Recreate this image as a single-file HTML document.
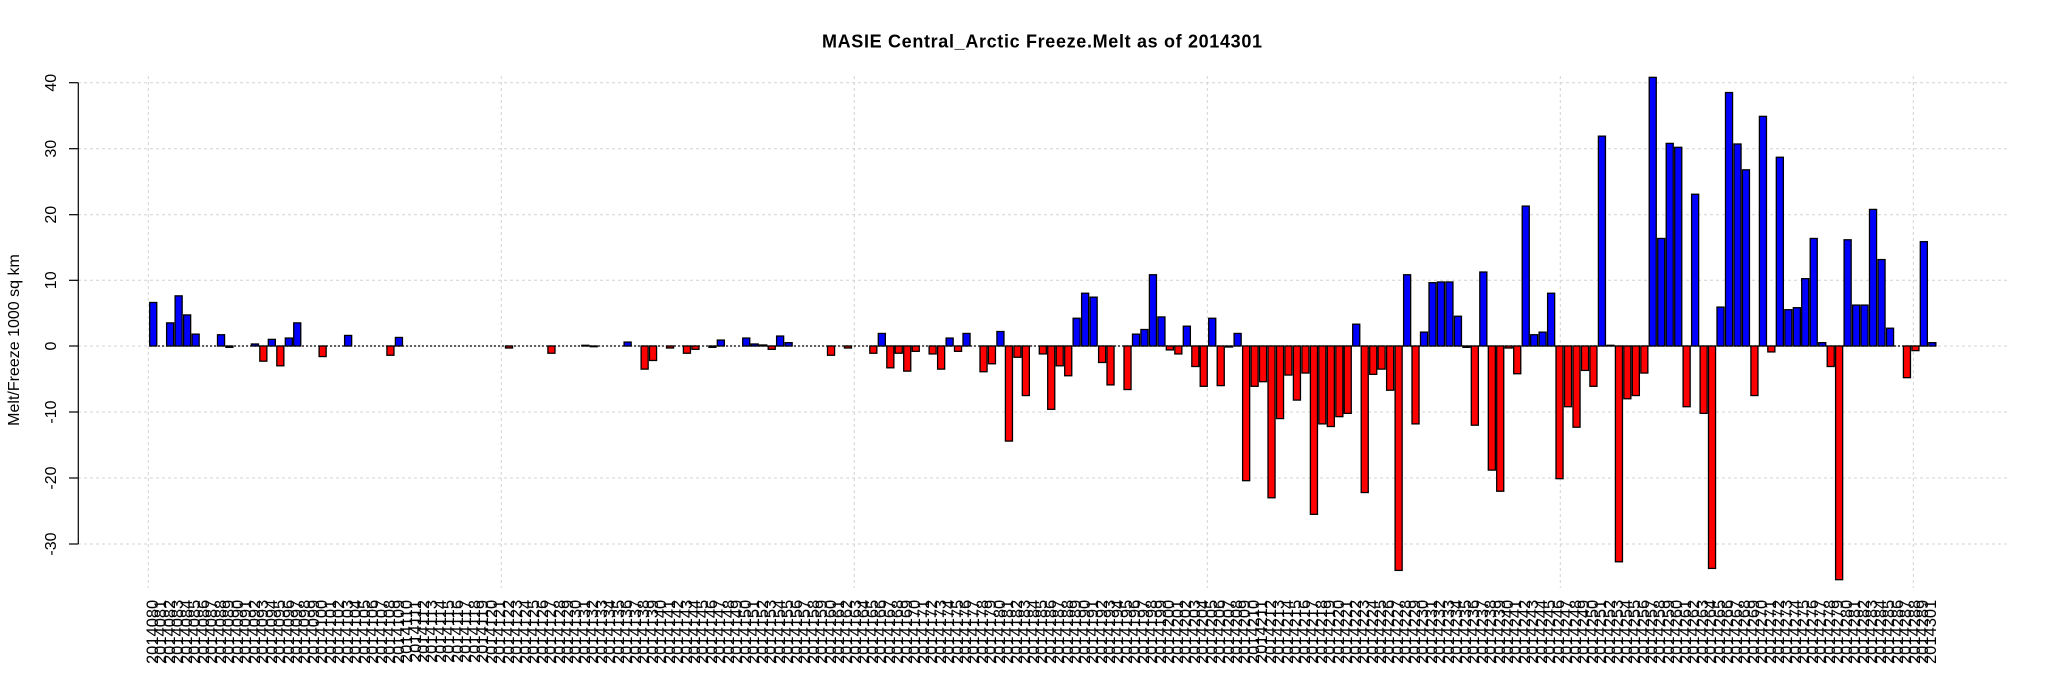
<!DOCTYPE html>
<html><head><meta charset="utf-8"><style>
html,body{margin:0;padding:0;background:#fff;}
body{width:2047px;height:681px;position:relative;overflow:hidden;font-family:"Liberation Sans",Arial,sans-serif;}
svg{position:absolute;left:0;top:0;}
#xl{position:absolute;left:149px;top:600px;display:flex;}
#xl i{font-style:normal;display:block;flex:none;width:8.472px;height:64px;writing-mode:vertical-rl;transform:rotate(180deg);text-align:end;line-height:8.472px;font-size:16.5px;white-space:nowrap;color:#000;}
</style></head><body>
<svg width="2047" height="681" viewBox="0 0 2047 681" xmlns="http://www.w3.org/2000/svg" font-family="Liberation Sans, Arial, sans-serif">
<text x="1042" y="47.5" font-size="18" font-weight="bold" text-anchor="middle" textLength="440">MASIE Central_Arctic Freeze.Melt as of 2014301</text>
<g stroke="#d3d3d3" stroke-width="1" stroke-dasharray="3,3">
<line x1="78" y1="82.7" x2="2008" y2="82.7"/>
<line x1="78" y1="148.7" x2="2008" y2="148.7"/>
<line x1="78" y1="214.7" x2="2008" y2="214.7"/>
<line x1="78" y1="280.3" x2="2008" y2="280.3"/>
<line x1="78" y1="346" x2="2008" y2="346"/>
<line x1="78" y1="412" x2="2008" y2="412"/>
<line x1="78" y1="478" x2="2008" y2="478"/>
<line x1="78" y1="544" x2="2008" y2="544"/>
<line x1="148.3" y1="76" x2="148.3" y2="588"/>
<line x1="501.3" y1="76" x2="501.3" y2="588"/>
<line x1="854.3" y1="76" x2="854.3" y2="588"/>
<line x1="1207.3" y1="76" x2="1207.3" y2="588"/>
<line x1="1560.3" y1="76" x2="1560.3" y2="588"/>
<line x1="1913.3" y1="76" x2="1913.3" y2="588"/>
</g>
<g stroke="#000" stroke-width="1.2">
<line x1="78.3" y1="82.7" x2="78.3" y2="544"/>
<line x1="69" y1="82.7" x2="78.3" y2="82.7"/>
<line x1="69" y1="148.7" x2="78.3" y2="148.7"/>
<line x1="69" y1="214.7" x2="78.3" y2="214.7"/>
<line x1="69" y1="280.3" x2="78.3" y2="280.3"/>
<line x1="69" y1="346" x2="78.3" y2="346"/>
<line x1="69" y1="412" x2="78.3" y2="412"/>
<line x1="69" y1="478" x2="78.3" y2="478"/>
<line x1="69" y1="544" x2="78.3" y2="544"/>
</g>
<g font-size="16" text-anchor="middle">
<text transform="translate(56,82.7) rotate(-90)">40</text>
<text transform="translate(56,148.7) rotate(-90)">30</text>
<text transform="translate(56,214.7) rotate(-90)">20</text>
<text transform="translate(56,280.3) rotate(-90)">10</text>
<text transform="translate(56,346) rotate(-90)">0</text>
<text transform="translate(56,412) rotate(-90)">-10</text>
<text transform="translate(56,478) rotate(-90)">-20</text>
<text transform="translate(56,544) rotate(-90)">-30</text>
<text transform="translate(19,340) rotate(-90)">Melt/Freeze 1000 sq km</text>
</g>
<line x1="150" y1="346" x2="1936" y2="346" stroke="#000" stroke-width="1.3" stroke-dasharray="2,2"/>
<g transform="translate(0,346) scale(1,1.005) translate(0,-344.3)" stroke="#000" stroke-width="1.3">
<g fill="#0000ff">
<rect x="149.7" y="301.0" width="7.06" height="43.3"/>
<rect x="166.6" y="321.3" width="7.06" height="23.0"/>
<rect x="175.1" y="294.4" width="7.06" height="49.9"/>
<rect x="183.6" y="313.4" width="7.06" height="30.9"/>
<rect x="192.1" y="332.5" width="7.06" height="11.8"/>
<rect x="217.5" y="333.1" width="7.06" height="11.2"/>
<rect x="251.4" y="342.3" width="7.06" height="2.0"/>
<rect x="268.3" y="337.7" width="7.06" height="6.6"/>
<rect x="285.3" y="336.4" width="7.06" height="7.9"/>
<rect x="293.7" y="321.3" width="7.06" height="23.0"/>
<rect x="344.6" y="333.8" width="7.06" height="10.5"/>
<rect x="395.4" y="335.8" width="7.06" height="8.5"/>
<rect x="581.8" y="343.6" width="7.06" height="0.7"/>
<rect x="624.1" y="340.4" width="7.06" height="3.9"/>
<rect x="717.3" y="338.4" width="7.06" height="5.9"/>
<rect x="742.7" y="336.4" width="7.06" height="7.9"/>
<rect x="751.2" y="342.3" width="7.06" height="2.0"/>
<rect x="759.7" y="343.3" width="7.06" height="1.0"/>
<rect x="776.6" y="334.4" width="7.06" height="9.9"/>
<rect x="785.1" y="341.0" width="7.06" height="3.3"/>
<rect x="878.3" y="331.8" width="7.06" height="12.5"/>
<rect x="946.1" y="336.4" width="7.06" height="7.9"/>
<rect x="963.0" y="331.8" width="7.06" height="12.5"/>
<rect x="996.9" y="329.9" width="7.06" height="14.4"/>
<rect x="1073.1" y="316.7" width="7.06" height="27.6"/>
<rect x="1081.6" y="291.8" width="7.06" height="52.5"/>
<rect x="1090.1" y="295.7" width="7.06" height="48.6"/>
<rect x="1132.5" y="332.5" width="7.06" height="11.8"/>
<rect x="1140.9" y="327.9" width="7.06" height="16.4"/>
<rect x="1149.4" y="273.4" width="7.06" height="70.9"/>
<rect x="1157.9" y="315.4" width="7.06" height="28.9"/>
<rect x="1183.3" y="324.6" width="7.06" height="19.7"/>
<rect x="1208.7" y="316.7" width="7.06" height="27.6"/>
<rect x="1234.1" y="331.8" width="7.06" height="12.5"/>
<rect x="1352.7" y="322.6" width="7.06" height="21.7"/>
<rect x="1403.6" y="273.4" width="7.06" height="70.9"/>
<rect x="1420.5" y="330.5" width="7.06" height="13.8"/>
<rect x="1429.0" y="281.3" width="7.06" height="63.0"/>
<rect x="1437.4" y="280.6" width="7.06" height="63.7"/>
<rect x="1445.9" y="280.6" width="7.06" height="63.7"/>
<rect x="1454.4" y="314.7" width="7.06" height="29.6"/>
<rect x="1479.8" y="270.7" width="7.06" height="73.6"/>
<rect x="1522.2" y="205.1" width="7.06" height="139.2"/>
<rect x="1530.6" y="333.1" width="7.06" height="11.2"/>
<rect x="1539.1" y="330.5" width="7.06" height="13.8"/>
<rect x="1547.6" y="291.8" width="7.06" height="52.5"/>
<rect x="1598.4" y="135.5" width="7.06" height="208.8"/>
<rect x="1606.9" y="343.6" width="7.06" height="0.7"/>
<rect x="1649.2" y="77.0" width="7.06" height="267.3"/>
<rect x="1657.7" y="237.3" width="7.06" height="107.0"/>
<rect x="1666.2" y="142.7" width="7.06" height="201.6"/>
<rect x="1674.7" y="146.6" width="7.06" height="197.7"/>
<rect x="1691.6" y="193.3" width="7.06" height="151.0"/>
<rect x="1717.0" y="305.6" width="7.06" height="38.7"/>
<rect x="1725.5" y="92.1" width="7.06" height="252.2"/>
<rect x="1734.0" y="143.3" width="7.06" height="201.0"/>
<rect x="1742.4" y="169.0" width="7.06" height="175.3"/>
<rect x="1759.4" y="115.8" width="7.06" height="228.5"/>
<rect x="1776.3" y="156.5" width="7.06" height="187.8"/>
<rect x="1784.8" y="308.2" width="7.06" height="36.1"/>
<rect x="1793.3" y="306.2" width="7.06" height="38.1"/>
<rect x="1801.7" y="277.3" width="7.06" height="67.0"/>
<rect x="1810.2" y="237.3" width="7.06" height="107.0"/>
<rect x="1818.7" y="341.0" width="7.06" height="3.3"/>
<rect x="1844.1" y="238.6" width="7.06" height="105.7"/>
<rect x="1852.6" y="303.6" width="7.06" height="40.7"/>
<rect x="1861.0" y="303.6" width="7.06" height="40.7"/>
<rect x="1869.5" y="208.4" width="7.06" height="135.9"/>
<rect x="1878.0" y="258.3" width="7.06" height="86.0"/>
<rect x="1886.5" y="326.6" width="7.06" height="17.7"/>
<rect x="1920.3" y="240.5" width="7.06" height="103.8"/>
<rect x="1928.8" y="341.0" width="7.06" height="3.3"/>
</g>
<g fill="#ff0000">
<rect x="225.9" y="344.3" width="7.06" height="1.3"/>
<rect x="259.8" y="344.3" width="7.06" height="15.1"/>
<rect x="276.8" y="344.3" width="7.06" height="19.7"/>
<rect x="319.1" y="344.3" width="7.06" height="10.5"/>
<rect x="386.9" y="344.3" width="7.06" height="9.2"/>
<rect x="505.5" y="344.3" width="7.06" height="2.0"/>
<rect x="547.9" y="344.3" width="7.06" height="7.2"/>
<rect x="590.2" y="344.3" width="7.06" height="0.7"/>
<rect x="641.1" y="344.3" width="7.06" height="23.0"/>
<rect x="649.5" y="344.3" width="7.06" height="14.4"/>
<rect x="666.5" y="344.3" width="7.06" height="2.0"/>
<rect x="683.4" y="344.3" width="7.06" height="7.2"/>
<rect x="691.9" y="344.3" width="7.06" height="3.3"/>
<rect x="708.9" y="344.3" width="7.06" height="1.3"/>
<rect x="768.2" y="344.3" width="7.06" height="3.3"/>
<rect x="827.5" y="344.3" width="7.06" height="9.2"/>
<rect x="844.4" y="344.3" width="7.06" height="2.0"/>
<rect x="869.8" y="344.3" width="7.06" height="7.2"/>
<rect x="886.8" y="344.3" width="7.06" height="21.7"/>
<rect x="895.2" y="344.3" width="7.06" height="7.2"/>
<rect x="903.7" y="344.3" width="7.06" height="25.0"/>
<rect x="912.2" y="344.3" width="7.06" height="5.3"/>
<rect x="929.1" y="344.3" width="7.06" height="7.9"/>
<rect x="937.6" y="344.3" width="7.06" height="23.0"/>
<rect x="954.5" y="344.3" width="7.06" height="5.3"/>
<rect x="980.0" y="344.3" width="7.06" height="25.6"/>
<rect x="988.4" y="344.3" width="7.06" height="17.7"/>
<rect x="1005.4" y="344.3" width="7.06" height="94.6"/>
<rect x="1013.9" y="344.3" width="7.06" height="11.2"/>
<rect x="1022.3" y="344.3" width="7.06" height="49.3"/>
<rect x="1039.3" y="344.3" width="7.06" height="7.9"/>
<rect x="1047.7" y="344.3" width="7.06" height="63.0"/>
<rect x="1056.2" y="344.3" width="7.06" height="19.7"/>
<rect x="1064.7" y="344.3" width="7.06" height="29.6"/>
<rect x="1098.6" y="344.3" width="7.06" height="16.4"/>
<rect x="1107.0" y="344.3" width="7.06" height="38.7"/>
<rect x="1124.0" y="344.3" width="7.06" height="43.3"/>
<rect x="1166.3" y="344.3" width="7.06" height="3.9"/>
<rect x="1174.8" y="344.3" width="7.06" height="7.9"/>
<rect x="1191.8" y="344.3" width="7.06" height="20.4"/>
<rect x="1200.2" y="344.3" width="7.06" height="40.1"/>
<rect x="1217.2" y="344.3" width="7.06" height="39.4"/>
<rect x="1225.6" y="344.3" width="7.06" height="1.0"/>
<rect x="1242.6" y="344.3" width="7.06" height="134.0"/>
<rect x="1251.1" y="344.3" width="7.06" height="40.1"/>
<rect x="1259.5" y="344.3" width="7.06" height="35.5"/>
<rect x="1268.0" y="344.3" width="7.06" height="151.0"/>
<rect x="1276.5" y="344.3" width="7.06" height="72.2"/>
<rect x="1284.9" y="344.3" width="7.06" height="28.9"/>
<rect x="1293.4" y="344.3" width="7.06" height="53.8"/>
<rect x="1301.9" y="344.3" width="7.06" height="26.9"/>
<rect x="1310.4" y="344.3" width="7.06" height="167.5"/>
<rect x="1318.8" y="344.3" width="7.06" height="77.5"/>
<rect x="1327.3" y="344.3" width="7.06" height="80.1"/>
<rect x="1335.8" y="344.3" width="7.06" height="70.3"/>
<rect x="1344.2" y="344.3" width="7.06" height="67.0"/>
<rect x="1361.2" y="344.3" width="7.06" height="145.8"/>
<rect x="1369.7" y="344.3" width="7.06" height="28.2"/>
<rect x="1378.1" y="344.3" width="7.06" height="23.0"/>
<rect x="1386.6" y="344.3" width="7.06" height="44.0"/>
<rect x="1395.1" y="344.3" width="7.06" height="223.3"/>
<rect x="1412.0" y="344.3" width="7.06" height="77.5"/>
<rect x="1462.9" y="344.3" width="7.06" height="1.3"/>
<rect x="1471.3" y="344.3" width="7.06" height="78.8"/>
<rect x="1488.3" y="344.3" width="7.06" height="123.5"/>
<rect x="1496.7" y="344.3" width="7.06" height="144.5"/>
<rect x="1505.2" y="344.3" width="7.06" height="2.0"/>
<rect x="1513.7" y="344.3" width="7.06" height="27.6"/>
<rect x="1556.0" y="344.3" width="7.06" height="132.0"/>
<rect x="1564.5" y="344.3" width="7.06" height="60.4"/>
<rect x="1573.0" y="344.3" width="7.06" height="80.8"/>
<rect x="1581.5" y="344.3" width="7.06" height="24.3"/>
<rect x="1589.9" y="344.3" width="7.06" height="40.1"/>
<rect x="1615.4" y="344.3" width="7.06" height="214.7"/>
<rect x="1623.8" y="344.3" width="7.06" height="52.5"/>
<rect x="1632.3" y="344.3" width="7.06" height="49.3"/>
<rect x="1640.8" y="344.3" width="7.06" height="26.9"/>
<rect x="1683.1" y="344.3" width="7.06" height="60.4"/>
<rect x="1700.1" y="344.3" width="7.06" height="67.0"/>
<rect x="1708.5" y="344.3" width="7.06" height="221.3"/>
<rect x="1750.9" y="344.3" width="7.06" height="49.3"/>
<rect x="1767.8" y="344.3" width="7.06" height="5.9"/>
<rect x="1827.2" y="344.3" width="7.06" height="20.4"/>
<rect x="1835.6" y="344.3" width="7.06" height="232.5"/>
<rect x="1903.4" y="344.3" width="7.06" height="31.5"/>
<rect x="1911.9" y="344.3" width="7.06" height="4.6"/>
</g>
</g>
</svg>
<div id="xl"><i>2014080</i><i>2014081</i><i>2014082</i><i>2014083</i><i>2014084</i><i>2014085</i><i>2014086</i><i>2014087</i><i>2014088</i><i>2014089</i><i>2014090</i><i>2014091</i><i>2014092</i><i>2014093</i><i>2014094</i><i>2014095</i><i>2014096</i><i>2014097</i><i>2014098</i><i>2014099</i><i>2014100</i><i>2014101</i><i>2014102</i><i>2014103</i><i>2014104</i><i>2014105</i><i>2014106</i><i>2014107</i><i>2014108</i><i>2014109</i><i>2014110</i><i>2014111</i><i>2014112</i><i>2014113</i><i>2014114</i><i>2014115</i><i>2014116</i><i>2014117</i><i>2014118</i><i>2014119</i><i>2014120</i><i>2014121</i><i>2014122</i><i>2014123</i><i>2014124</i><i>2014125</i><i>2014126</i><i>2014127</i><i>2014128</i><i>2014129</i><i>2014130</i><i>2014131</i><i>2014132</i><i>2014133</i><i>2014134</i><i>2014135</i><i>2014136</i><i>2014137</i><i>2014138</i><i>2014139</i><i>2014140</i><i>2014141</i><i>2014142</i><i>2014143</i><i>2014144</i><i>2014145</i><i>2014146</i><i>2014147</i><i>2014148</i><i>2014149</i><i>2014150</i><i>2014151</i><i>2014152</i><i>2014153</i><i>2014154</i><i>2014155</i><i>2014156</i><i>2014157</i><i>2014158</i><i>2014159</i><i>2014160</i><i>2014161</i><i>2014162</i><i>2014163</i><i>2014164</i><i>2014165</i><i>2014166</i><i>2014167</i><i>2014168</i><i>2014169</i><i>2014170</i><i>2014171</i><i>2014172</i><i>2014173</i><i>2014174</i><i>2014175</i><i>2014176</i><i>2014177</i><i>2014178</i><i>2014179</i><i>2014180</i><i>2014181</i><i>2014182</i><i>2014183</i><i>2014184</i><i>2014185</i><i>2014186</i><i>2014187</i><i>2014188</i><i>2014189</i><i>2014190</i><i>2014191</i><i>2014192</i><i>2014193</i><i>2014194</i><i>2014195</i><i>2014196</i><i>2014197</i><i>2014198</i><i>2014199</i><i>2014200</i><i>2014201</i><i>2014202</i><i>2014203</i><i>2014204</i><i>2014205</i><i>2014206</i><i>2014207</i><i>2014208</i><i>2014209</i><i>2014210</i><i>2014211</i><i>2014212</i><i>2014213</i><i>2014214</i><i>2014215</i><i>2014216</i><i>2014217</i><i>2014218</i><i>2014219</i><i>2014220</i><i>2014221</i><i>2014222</i><i>2014223</i><i>2014224</i><i>2014225</i><i>2014226</i><i>2014227</i><i>2014228</i><i>2014229</i><i>2014230</i><i>2014231</i><i>2014232</i><i>2014233</i><i>2014234</i><i>2014235</i><i>2014236</i><i>2014237</i><i>2014238</i><i>2014239</i><i>2014240</i><i>2014241</i><i>2014242</i><i>2014243</i><i>2014244</i><i>2014245</i><i>2014246</i><i>2014247</i><i>2014248</i><i>2014249</i><i>2014250</i><i>2014251</i><i>2014252</i><i>2014253</i><i>2014254</i><i>2014255</i><i>2014256</i><i>2014257</i><i>2014258</i><i>2014259</i><i>2014260</i><i>2014261</i><i>2014262</i><i>2014263</i><i>2014264</i><i>2014265</i><i>2014266</i><i>2014267</i><i>2014268</i><i>2014269</i><i>2014270</i><i>2014271</i><i>2014272</i><i>2014273</i><i>2014274</i><i>2014275</i><i>2014276</i><i>2014277</i><i>2014278</i><i>2014279</i><i>2014280</i><i>2014281</i><i>2014282</i><i>2014283</i><i>2014284</i><i>2014285</i><i>2014286</i><i>2014287</i><i>2014288</i><i>2014289</i><i>2014301</i></div>
</body></html>
